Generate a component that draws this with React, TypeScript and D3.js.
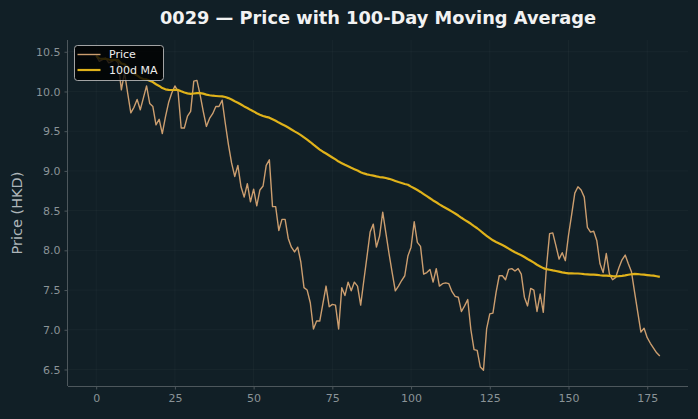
import { useEffect, useRef } from 'react';
import * as d3 from 'd3';

// Daily closes for 0029, oldest first
const PRICE = [
  10.45, 10.38, 10.40, 10.42, 10.36, 10.38, 10.40, 10.36, 10.02, 10.24,
  9.98, 9.73, 9.80, 9.90, 9.77, 9.92, 10.07, 9.85, 9.81, 9.58,
  9.65, 9.47, 9.68, 9.86, 9.98, 10.07, 10.00, 9.54, 9.54, 9.69,
  9.75, 10.13, 10.14, 9.96, 9.75, 9.56, 9.66, 9.72, 9.81, 9.81,
  9.89, 9.60, 9.33, 9.10, 8.93, 9.07, 8.80, 8.67, 8.84, 8.61,
  8.77, 8.56, 8.76, 8.81, 9.07, 9.14, 8.55, 8.55, 8.25, 8.39,
  8.39, 8.15, 8.04, 7.98, 8.04, 7.85, 7.53, 7.50, 7.34, 7.01,
  7.11, 7.11, 7.33, 7.55, 7.29, 7.32, 7.31, 7.01, 7.53, 7.43,
  7.60, 7.49, 7.60, 7.55, 7.31, 7.62, 7.92, 8.23, 8.33, 8.04,
  8.18, 8.48, 8.22, 7.96, 7.72, 7.49, 7.55, 7.62, 7.68, 7.93,
  8.04, 8.36, 8.10, 8.05, 7.70, 7.72, 7.76, 7.60, 7.77, 7.55,
  7.58, 7.59, 7.58, 7.48, 7.42, 7.41, 7.23, 7.30, 7.38, 7.00,
  6.75, 6.74, 6.53, 6.49, 7.01, 7.20, 7.21, 7.47, 7.68, 7.68,
  7.63, 7.76, 7.77, 7.74, 7.77, 7.70, 7.41, 7.30, 7.52, 7.50,
  7.23, 7.45, 7.22, 7.79, 8.21, 8.22, 8.06, 7.89, 7.97, 7.87,
  8.19, 8.45, 8.72, 8.80, 8.76, 8.67, 8.29, 8.23, 8.24, 8.12,
  7.83, 7.72, 7.96, 7.70, 7.63, 7.66, 7.78, 7.88, 7.94, 7.83,
  7.73, 7.47, 7.22, 6.97, 7.02, 6.90, 6.83, 6.77, 6.71, 6.67,
];

const MA_WINDOW = 100;
const X_TICKS = [0, 25, 50, 75, 100, 125, 150, 175];
const Y_TICKS = [6.5, 7.0, 7.5, 8.0, 8.5, 9.0, 9.5, 10.0, 10.5];
const LEGEND = [
  { label: 'Price', key: 'price' },
  { label: '100d MA', key: 'ma' },
];

const BG = '#111f26';
const PRICE_COLOR = '#cc9e6f';
const MA_COLOR = '#e0b21a';
const FONT = '"DejaVu Sans", Verdana, sans-serif';

function PriceMAChart() {
  const ref = useRef<SVGSVGElement>(null);

  useEffect(() => {
    document.body.style.margin = '0';
    document.body.style.background = BG;

    const W = 698, H = 419;
    const margin = { top: 40, right: 10, bottom: 33, left: 68 };
    const width = W - margin.left - margin.right;
    const height = H - margin.top - margin.bottom;

    // rolling mean, shorter window at the start until 100 days are available
    const data = PRICE.map((p, i) => ({
      i,
      price: p,
      ma: d3.mean(PRICE.slice(Math.max(0, i - MA_WINDOW + 1), i + 1)) as number,
    }));

    const svg = d3.select(ref.current);
    svg.selectAll('*').remove();
    svg.append('rect').attr('width', W).attr('height', H).attr('fill', BG);

    const xPad = (data.length - 1) * 0.05;
    const [lo, hi] = d3.extent(data.flatMap(d => [d.price, d.ma])) as [number, number];
    const yPad = (hi - lo) * 0.05;

    const x = d3.scaleLinear().domain([-xPad, data.length - 1 + xPad]).range([0, width]);
    const y = d3.scaleLinear().domain([lo - yPad, hi + yPad]).range([height, 0]);

    const g = svg.append('g').attr('transform', `translate(${margin.left},${margin.top})`);

    // Grid
    g.selectAll('line.gy').data(Y_TICKS).enter().append('line').attr('class', 'gy')
      .attr('x1', 0).attr('x2', width).attr('y1', d => y(d)).attr('y2', d => y(d))
      .attr('stroke', 'rgba(255,255,255,0.045)').attr('stroke-width', 0.8);
    g.selectAll('line.gx').data(X_TICKS).enter().append('line').attr('class', 'gx')
      .attr('x1', d => x(d)).attr('x2', d => x(d)).attr('y1', 0).attr('y2', height)
      .attr('stroke', 'rgba(255,255,255,0.045)').attr('stroke-width', 0.8);

    // Axes
    const axisColor = '#4d575c';
    const tickText = '#8a9397';

    g.append('g').attr('transform', `translate(0,${height})`)
      .call(d3.axisBottom(x).tickValues(X_TICKS).tickFormat(d3.format('d')).tickSizeOuter(0).tickSize(3.5).tickPadding(5))
      .call(a => a.select('.domain').attr('stroke', axisColor).attr('d', `M0,0.5H${width}`))
      .call(a => a.selectAll('.tick line').attr('stroke', axisColor))
      .selectAll('text').style('fill', tickText).style('font-size', '11px').style('font-family', FONT);

    g.append('g')
      .call(d3.axisLeft(y).tickValues(Y_TICKS).tickFormat(d3.format('.1f')).tickSizeOuter(0).tickSize(3.5).tickPadding(4))
      .call(a => a.select('.domain').attr('stroke', axisColor).attr('d', `M-0.5,0V${height}`))
      .call(a => a.selectAll('.tick line').attr('stroke', axisColor))
      .selectAll('text').style('fill', tickText).style('font-size', '11px').style('font-family', FONT);

    g.append('text')
      .attr('transform', 'rotate(-90)').attr('x', -height / 2).attr('y', -46)
      .attr('text-anchor', 'middle').style('fill', '#aeb6ba').style('font-size', '14.5px').style('font-family', FONT)
      .text('Price (HKD)');

    // Lines
    const priceLine = d3.line<typeof data[0]>().x(d => x(d.i)).y(d => y(d.price));
    const maLine = d3.line<typeof data[0]>().x(d => x(d.i)).y(d => y(d.ma));

    g.append('path').datum(data).attr('d', priceLine)
      .attr('fill', 'none').attr('stroke', PRICE_COLOR).attr('stroke-width', 1.4).attr('stroke-linejoin', 'round');
    g.append('path').datum(data).attr('d', maLine)
      .attr('fill', 'none').attr('stroke', MA_COLOR).attr('stroke-width', 2.2).attr('stroke-linejoin', 'round');

    // Title
    svg.append('text')
      .attr('x', margin.left + width / 2).attr('y', 24)
      .attr('text-anchor', 'middle').style('fill', '#f2f2f2').style('font-size', '17.8px')
      .style('font-weight', 'bold').style('font-family', FONT)
      .text('0029 — Price with 100-Day Moving Average');

    // Legend
    const lg = svg.append('g').attr('transform', 'translate(74.5,45.5)');
    lg.append('rect').attr('width', 89).attr('height', 35).attr('rx', 3)
      .attr('fill', 'rgba(0,0,0,0.8)').attr('stroke', 'rgba(200,200,200,0.8)').attr('stroke-width', 1);
    LEGEND.forEach((item, k) => {
      const cy = 9 + k * 15.5;
      lg.append('line').attr('x1', 3).attr('x2', 26).attr('y1', cy).attr('y2', cy)
        .attr('stroke', item.key === 'price' ? PRICE_COLOR : MA_COLOR)
        .attr('stroke-width', item.key === 'price' ? 1.4 : 2.2);
      lg.append('text').attr('x', 34.5).attr('y', cy).attr('dy', '0.35em')
        .style('fill', '#eeeeee').style('font-size', '11px').style('font-family', FONT)
        .text(item.label);
    });
  }, []);

  return <svg ref={ref} width={698} height={419} style={{ display: 'block' }} />;
}

export default function App() {
  return <PriceMAChart />;
}
